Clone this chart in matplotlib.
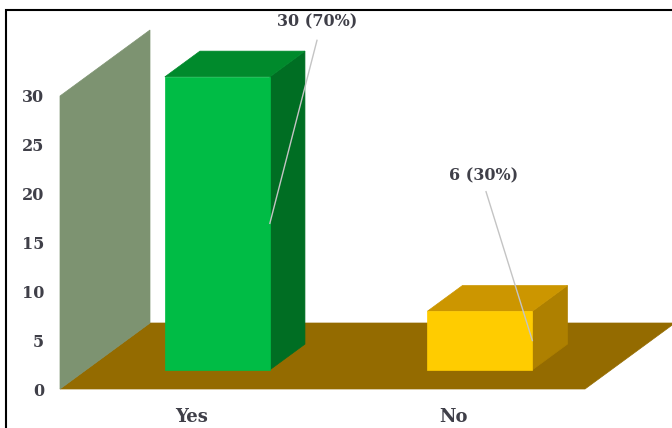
import matplotlib
matplotlib.use("Agg")
import matplotlib.pyplot as plt
from matplotlib.patches import Polygon, Rectangle

categories = ["Yes", "No"]
values = [30, 6]
labels = ["30 (70%)", "6 (30%)"]
yticks = [0, 5, 10, 15, 20, 25, 30]
front_colors = ["#00BC45", "#FFCC00"]
top_colors = ["#008A2C", "#CC9600"]
side_colors = ["#006E23", "#AE8000"]
WALL = "#7D9371"
FLOOR = "#946B00"
TEXT = "#3F3F48"
W, H = 672, 428

fig = plt.figure(figsize=(W / 100, H / 100), dpi=100, facecolor="white")
ax = fig.add_axes([60 / W, 1 - 389 / H, 525 / W, 293 / H])
ax.set_xlim(-0.5, 1.5)
ax.set_ylim(0, 30)
ax.patch.set_visible(False)
for s in ax.spines.values():
    s.set_visible(False)

# oblique projection: depth 0..1 maps to a shift in data units
DX = 90 / 262.5
DY = 66 / (293 / 30)
def P(x, y, d):
    return (x + d * DX, y + d * DY)

def poly(pts, color, z):
    ax.add_patch(Polygon(pts, closed=True, facecolor=color, edgecolor=color, lw=0.5, clip_on=False, zorder=z))

poly([P(-0.5, 0, 0), P(1.5, 0, 0), P(1.5, 0, 1), P(-0.5, 0, 1)], FLOOR, 1)
poly([P(-0.5, 0, 0), P(-0.5, 30, 0), P(-0.5, 30, 1), P(-0.5, 0, 1)], WALL, 1)

BW = 0.4
D0, D1 = 0.29, 0.68
for i, v in enumerate(values):
    l, r = i - BW / 2, i + BW / 2
    poly([P(r, 0, D0), P(r, 0, D1), P(r, v, D1), P(r, v, D0)], side_colors[i], 2)
    poly([P(l, v, D0), P(r, v, D0), P(r, v, D1), P(l, v, D1)], top_colors[i], 2)
    poly([P(l, 0, D0), P(r, 0, D0), P(r, v, D0), P(l, v, D0)], front_colors[i], 3)

# leader lines and value labels
label_x = [0.479, 1.115]
label_y = [37.6, 21.8]
leader_x = [0.479, 1.123]
leader_y = [35.7, 20.2]
for i, v in enumerate(values):
    ax_x, ax_y = P(i + BW / 2, v / 2, D0)
    ax.plot([ax_x, leader_x[i]], [ax_y, leader_y[i]], color="#C4C4C4", lw=1, clip_on=False, zorder=5)
    ax.text(label_x[i], label_y[i], labels[i], ha="center", va="center",
            family="DejaVu Serif", weight="bold", fontsize=11.5, color=TEXT, zorder=6, clip_on=False)

ax.set_xticks(range(len(categories)), categories)
ax.set_yticks(yticks, [str(t) for t in yticks])
ax.tick_params(length=0)
ax.tick_params(axis="y", pad=11.5)
ax.tick_params(axis="x", pad=14)
for t in ax.get_yticklabels():
    t.set_family("DejaVu Serif")
    t.set_weight("bold")
    t.set_fontsize(11.5)
    t.set_color(TEXT)
for t in ax.get_xticklabels():
    t.set_family("DejaVu Serif")
    t.set_weight("bold")
    t.set_fontsize(13)
    t.set_color(TEXT)

fig.add_artist(Rectangle((6 / W, -0.02), (W + 10) / W, 1.02 - 10 / H, transform=fig.transFigure,
                         fill=False, edgecolor="black", lw=1.5))
fig.savefig("out.png", dpi=100)
